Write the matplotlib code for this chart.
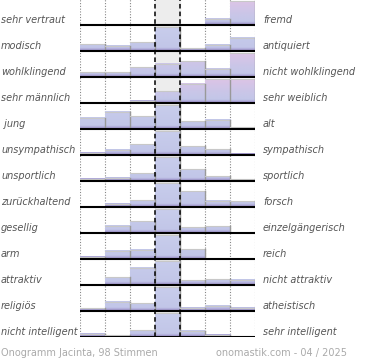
import matplotlib
matplotlib.use("Agg")
import matplotlib.pyplot as plt
import matplotlib.transforms as mtransforms
from matplotlib.colors import LinearSegmentedColormap
import numpy as np

left_labels = ["sehr vertraut", "modisch", "wohlklingend", "sehr männlich", " jung",
               "unsympathisch", "unsportlich", "zurückhaltend", "gesellig", "arm",
               "attraktiv", "religiös", "nicht intelligent"]
right_labels = ["fremd", "antiquiert", "nicht wohlklingend", "sehr weiblich", "alt",
                "sympathisch", "sportlich", "forsch", "einzelgängerisch", "reich",
                "nicht attraktiv", "atheistisch", "sehr intelligent"]

# votes per scale step (7 steps, left -> right), 98 votes per row
votes = [
    [0, 0, 0, 0, 0, 20, 78],
    [10, 8, 13, 35, 4, 9, 19],
    [6, 6, 12, 16, 19, 10, 29],
    [0, 0, 3, 14, 23, 29, 29],
    [13, 20, 15, 28, 9, 11, 2],
    [4, 9, 18, 40, 15, 10, 2],
    [4, 6, 14, 42, 21, 8, 3],
    [0, 5, 11, 38, 25, 10, 9],
    [0, 13, 21, 42, 10, 12, 0],
    [4, 15, 17, 44, 18, 0, 0],
    [0, 12, 26, 36, 7, 9, 8],
    [5, 16, 14, 42, 6, 9, 6],
    [7, 4, 15, 53, 14, 5, 0],
]
footer_left = "Onogramm Jacinta, 98 Stimmen"
footer_right = "onomastik.com - 04 / 2025"

W, H = 370, 360
fig = plt.figure(figsize=(W / 100, H / 100), dpi=100)
n = len(votes)
ax = fig.add_axes([80 / W, 23 / H, 175 / W, 26 * n / H])
ax.set_xlim(0, 7)
ax.set_ylim(0, n)
ax.axis("off")

full = 24 / 26  # tallest bar in a row
blue_cm = LinearSegmentedColormap.from_list("b", [
    (0.0, "#9486c2"), (0.06, "#aaa2d4"), (0.14, "#c2c6e8"), (1.0, "#c8cdec")])
pink_cm = LinearSegmentedColormap.from_list("p", [
    (0.0, "#9486c2"), (0.06, "#aaa2d4"), (0.14, "#c2c6e8"), (0.5, "#cbc6e8"), (1.0, "#dcc4e6")])

ax.axvspan(3, 4, color="#ededed", zorder=0)
for x in [0, 1, 2, 5, 6, 7]:
    ax.axvline(x, color="#888888", ls=(0, (1, 1.5)), lw=0.8, zorder=1)

for i, row in enumerate(votes):
    base = n - 1 - i
    mx = max(row)
    cm = pink_cm if sum(row[4:]) > sum(row[:4]) else blue_cm
    for j, v in enumerate(row):
        if v == 0:
            continue
        h = v / mx * full
        ys = np.linspace(h, 0, 60) / full
        img = cm(ys)[:, None, :]
        ax.imshow(img, extent=(j, j + 1, base, base + h), aspect="auto",
                  interpolation="bilinear", zorder=2)
        ax.plot([j, j + 1], [base + h, base + h], color="#c8c8c8", lw=0.8, zorder=3)
        ax.plot([j + 1, j + 1], [base, base + h], color="#999999", lw=1, zorder=3)

ax.set_xlim(0, 7)
ax.set_ylim(0, n)
for x in [3, 4]:
    ax.axvline(x, color="black", ls=(0, (3, 2)), lw=1.1, zorder=4)
ax.hlines([n - 1 - i for i in range(n)], 0, 7, color="black", lw=1.5, zorder=5)

tr = mtransforms.blended_transform_factory(fig.transFigure, ax.transData)
for i in range(n):
    y = n - 1 - i + 0.19
    ax.text(1 / W, y, left_labels[i], transform=tr, ha="left", va="center",
            fontsize=7, style="italic", color="#555555")
    ax.text(263 / W, y, right_labels[i], transform=tr, ha="left", va="center",
            fontsize=7, style="italic", color="#555555")

fig.text(1 / W, 1 - 353 / H, footer_left, ha="left", va="center", fontsize=7, color="#aaaaaa")
fig.text(347 / W, 1 - 353 / H, footer_right, ha="right", va="center", fontsize=7, color="#aaaaaa")

fig.savefig("out.png", dpi=100)
